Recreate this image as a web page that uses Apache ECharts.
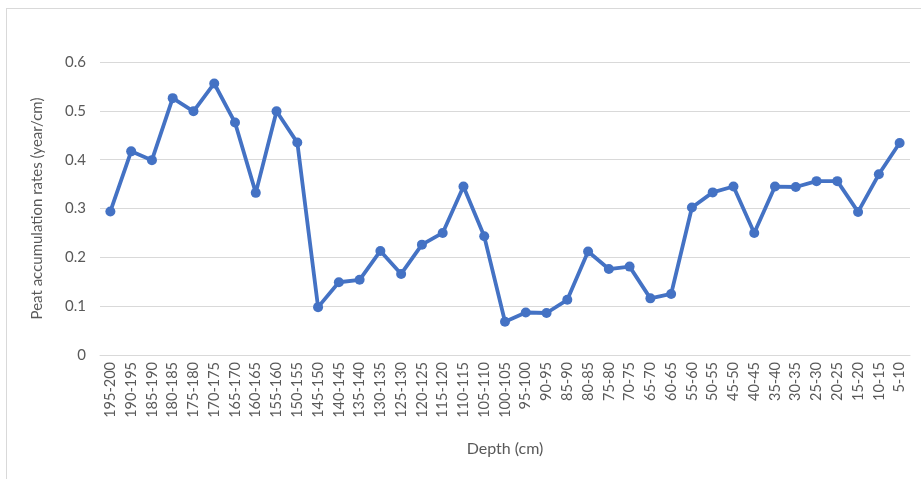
<!DOCTYPE html>
<html>
<head>
<meta charset="utf-8">
<script src="https://cdn.jsdelivr.net/npm/echarts@6/dist/echarts.min.js"></script>
<style>
  html, body { margin: 0; padding: 0; background: #fff; }
  #frame { position: absolute; left: 0; top: 0; width: 921px; height: 479px; }
  #border { position: absolute; left: 6px; top: 8px; width: 930px; height: 490px;
            border-left: 1px solid #d9d9d9; border-top: 1px solid #d9d9d9; box-sizing: border-box; }
  #chart { position: absolute; left: 0; top: 0; width: 921px; height: 479px; }
</style>
</head>
<body>
<div id="frame">
  <div id="border"></div>
  <div id="chart"></div>
</div>
<script>
// Depth intervals (cm), deepest first
const depthLabels = [
  '195-200','190-195','185-190','180-185','175-180','170-175','165-170','160-165',
  '155-160','150-155','145-150','140-145','135-140','130-135','125-130','120-125',
  '115-120','110-115','105-110','100-105','95-100','90-95','85-90','80-85',
  '75-80','70-75','65-70','60-65','55-60','50-55','45-50','40-45',
  '35-40','30-35','25-30','20-25','15-20','10-15','5-10'
];

// Peat accumulation rate per interval (year/cm)
const accumulationRates = [
  0.294, 0.417, 0.399, 0.526, 0.499, 0.556, 0.476, 0.332,
  0.499, 0.435, 0.098, 0.149, 0.154, 0.213, 0.166, 0.226,
  0.250, 0.345, 0.243, 0.068, 0.087, 0.086, 0.113, 0.212,
  0.176, 0.181, 0.116, 0.125, 0.302, 0.333, 0.345, 0.250,
  0.345, 0.344, 0.356, 0.356, 0.293, 0.370, 0.434
];

const yTicks = { min: 0, max: 0.6, step: 0.1 };

const textColor = '#595959';
const gridColor = '#d9d9d9';
const fontFamily = 'Lato, "Open Sans", sans-serif';

const chart = echarts.init(document.getElementById('chart'), null, { renderer: 'canvas' });
chart.setOption({
  animation: false,
  backgroundColor: 'transparent',
  grid: { left: 100, right: 11, top: 62, bottom: 124, containLabel: false },
  xAxis: {
    type: 'category',
    data: depthLabels,
    boundaryGap: true,
    name: 'Depth (cm)',
    nameLocation: 'middle',
    nameGap: 86,
    nameTextStyle: { color: textColor, fontSize: 16, fontFamily: fontFamily },
    axisLine: { show: true, lineStyle: { color: gridColor, width: 1 } },
    axisTick: { show: false },
    axisLabel: {
      rotate: 90, interval: 0, margin: 7,
      color: textColor, fontSize: 14.5, fontFamily: fontFamily
    },
    splitLine: { show: false }
  },
  yAxis: {
    type: 'value',
    min: yTicks.min,
    max: yTicks.max,
    interval: yTicks.step,
    name: 'Peat accumulation rates (year/cm)',
    nameLocation: 'middle',
    nameGap: 55,
    nameTextStyle: { color: textColor, fontSize: 15, fontFamily: fontFamily },
    axisLine: { show: false },
    axisTick: { show: false },
    axisLabel: {
      margin: 14, color: textColor, fontSize: 15, fontFamily: fontFamily,
      formatter: v => (v === 0 ? '0' : String(Math.round(v * 10) / 10))
    },
    splitLine: { lineStyle: { color: gridColor, width: 1 } }
  },
  series: [{
    type: 'line',
    data: accumulationRates,
    symbol: 'circle',
    symbolSize: 10,
    showAllSymbol: true,
    lineStyle: { color: '#4472c4', width: 3.8, join: 'round' },
    itemStyle: { color: '#4472c4', borderWidth: 0 },
    z: 3
  }]
});
</script>
</body>
</html>
